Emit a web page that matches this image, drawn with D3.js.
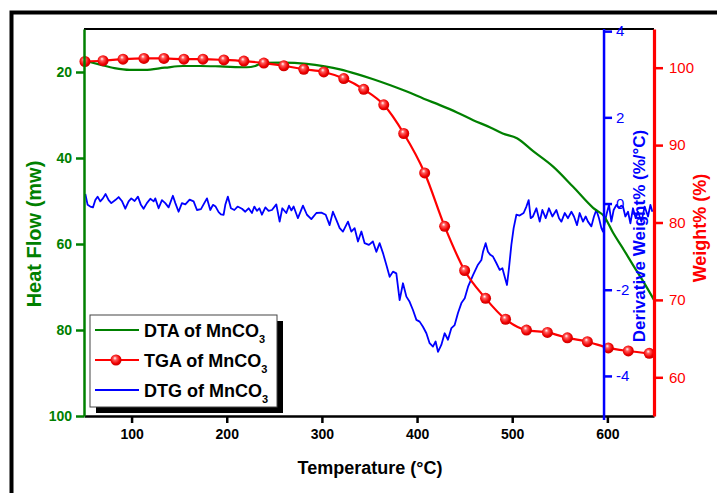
<!DOCTYPE html>
<html>
<head>
<meta charset="utf-8">
<script src="https://cdn.jsdelivr.net/npm/d3@7"></script>
<style>
  html, body { margin: 0; padding: 0; background: #fff; }
  svg { display: block; font-family: Arial, "Liberation Sans", sans-serif; }
</style>
</head>
<body>
<svg id="chart" width="717" height="493"></svg>
<script>
// ---- DTA (heat flow, mW) ----
const dtaTemp = [51,58,67,82,98,114,135,154,172,193,221,230,238,259,284,303,319,337,354,372,390,407,424,442,459,477,490,505,522,543,564,585,597,606,616,627,638,649];
const dtaHeat = [17.4,17.8,18.3,19.1,19.5,19.5,19.0,18.6,18.6,18.7,18.9,18.6,17.9,17.8,18.1,18.7,19.4,20.5,21.7,23.1,24.6,26.2,27.7,29.4,31.2,32.9,34.3,35.4,38.4,42.0,46.7,51.6,53.7,57.4,60.9,64.9,68.8,73.0];

// ---- TGA (weight %) ----
const tgaTemp = [51,70,91,113,134,155,175,197,218,239,260,281,302,323,344,365,386,408,429,450,472,493,515,537,558,579,601,622,644];
const tgaWeight = [100.8,100.9,101.1,101.2,101.2,101.1,101.1,101.0,100.85,100.6,100.25,99.8,99.45,98.6,97.2,95.2,91.5,86.4,79.5,73.8,70.2,67.5,66.1,65.8,65.1,64.6,63.8,63.4,63.1];

// ---- DTG (derivative weight, %/°C) ----
const dtgTemp = [51.4,53.8,56.6,59.4,61.9,64.3,67.1,69.9,72.7,75.9,78.7,82.9,86.4,89.8,93.4,96.9,99.7,103.2,106.7,109.8,112.6,116.1,119.7,123.2,124.9,128.4,131.9,135.4,138.9,143.4,146.0,149.4,152.9,156.5,161.0,165.2,168.7,172.9,176.4,179.2,182.7,185.5,188.3,191.5,193.9,196.7,198.5,201.2,204.4,208.0,211.4,216.0,219.5,223.0,226.5,229.0,231.7,234.3,237.0,240.6,244.0,247.5,252.1,255.6,258.4,
  262.6,265.4,267.9,270.3,274.8,280.1,284.3,288.9,294.2,299.4,304.0,308.1,311.6,315.2,318.7,322.1,327.4,330.9,334.4,337.9,341.5,344.9,349.4,353.6,357.2,360.7,364.2,367.7,371.2,374.7,378.2,381.7,385.2,388.8,392.2,395.7,399.3,402.7,406.2,409.8,413.2,416.7,419.5,422.0,425.5,429.0,432.5,436.1,439.5,443.0,446.6,450.1,453.6,
  458.8,464.0,467.6,469.3,472.1,474.5,477.0,479.8,483.3,486.8,489.7,492.1,494.5,496.6,499.1,501.5,504.4,507.8,512.0,514.9,517.3,519.4,521.8,525.4,528.9,531.7,535.2,538.6,542.2,546.4,549.2,551.7,555.2,558.6,562.2,564.9,568.1,570.9,574.4,577.2,579.6,583.2,585.9,588.4,591.2,593.7,595.4,599.0,601.7,604.2,606.6,609.5,612.2,614.7,616.4,618.9,621.7,624.2,626.9,629.8,632.2,635.8,639.2,642.7,645.2,647.3];
const dtgValue = [0.22,-0.03,-0.07,-0.09,0.08,0.16,0.05,0.12,0.22,0.08,0.01,0.08,0.15,0.06,-0.12,0.05,0.12,0.06,0.16,-0.03,-0.12,0.01,0.11,0.05,0.12,-0.11,0.08,0.01,-0.09,0.18,0.01,-0.19,0.01,-0.02,0.09,0.05,-0.15,-0.13,0.01,0.12,-0.15,-0.03,-0.07,-0.20,-0.25,-0.26,-0.03,0.16,-0.11,-0.15,-0.07,-0.12,-0.19,-0.11,-0.22,-0.07,-0.17,-0.11,-0.26,-0.09,-0.17,-0.15,-0.02,-0.42,-0.11,
  -0.22,-0.05,-0.16,-0.07,-0.34,-0.05,-0.26,-0.36,-0.22,-0.21,-0.26,-0.50,-0.19,-0.38,-0.57,-0.65,-0.42,-0.65,-0.57,-0.88,-0.65,-0.92,-0.96,-0.88,-1.12,-0.92,-1.15,-1.42,-1.70,-1.58,-1.62,-2.24,-1.85,-2.16,-2.28,-2.47,-2.70,-2.74,-2.86,-3.01,-3.24,-3.32,-3.20,-3.44,-3.28,-3.01,-3.16,-2.89,-2.82,-2.54,-2.31,-2.20,-1.93,
  -1.66,-1.42,-1.31,-1.12,-0.92,-1.12,-1.19,-1.23,-1.38,-1.54,-1.50,-1.70,-1.89,-1.50,-0.96,-0.57,-0.26,-0.28,-0.22,-0.07,0.08,-0.34,-0.30,-0.11,-0.42,-0.15,-0.34,-0.11,-0.30,-0.15,-0.34,-0.42,-0.22,-0.34,-0.19,-0.30,-0.50,-0.22,-0.42,-0.30,-0.42,-0.53,-0.30,-0.15,-0.34,-0.57,-0.65,-0.26,-0.03,-0.42,-0.15,-0.03,-0.10,-0.05,-0.07,-0.30,-0.19,-0.46,-0.11,-0.34,-0.19,-0.42,-0.07,-0.30,-0.03,-0.19];

// ---- axes ----
const tempTicks = [100,200,300,400,500,600];
const heatTicks = [20,40,60,80,100];
const dtgTicks = [-4,-2,0,2,4];
const weightTicks = [60,70,80,90,100];
const dtgAxisAt = 596.5; // temperature where the DTG axis is offset

const legendItems = [
  { name: "DTA of MnCO", sub: "3", kind: "dta" },
  { name: "TGA of MnCO", sub: "3", kind: "tga" },
  { name: "DTG of MnCO", sub: "3", kind: "dtg" }
];

const GREEN = "#008000", RED = "#ff0000", BLUE = "#0000ff";
const plot = { left: 84, right: 654, top: 29, bottom: 416 };

const svg = d3.select("#chart");

const x = d3.scaleLinear().domain([50, 649]).range([plot.left, plot.right]);
const yHeat = d3.scaleLinear().domain([10, 100]).range([plot.top, plot.bottom]);
const yDtg = d3.scaleLinear().domain([4.05, -4.93]).range([plot.top, plot.bottom]);
const yWt = d3.scaleLinear().domain([105, 55]).range([plot.top, plot.bottom]);

// gradient for the sphere-like TGA markers
const defs = svg.append("defs");
const grad = defs.append("radialGradient").attr("id", "ball")
  .attr("cx", "45%").attr("cy", "45%").attr("r", "60%")
  .attr("fx", "40%").attr("fy", "32%");
grad.append("stop").attr("offset", "0%").attr("stop-color", "#ffffff");
grad.append("stop").attr("offset", "28%").attr("stop-color", "#ff5a5a");
grad.append("stop").attr("offset", "70%").attr("stop-color", "#ee0000");
grad.append("stop").attr("offset", "100%").attr("stop-color", "#c00000");

// outer frame (left and top edges)
svg.append("path")
  .attr("d", "M11.5,493 L11.5,12.5 L717,12.5")
  .attr("fill", "none").attr("stroke", "#000").attr("stroke-width", 4);

// top border of the plot
svg.append("line")
  .attr("x1", plot.left).attr("x2", plot.right)
  .attr("y1", plot.top).attr("y2", plot.top)
  .attr("stroke", "#000").attr("stroke-width", 2);

// ---- curves ----
const dtgData = dtgTemp.map((t, i) => [t, dtgValue[i]]);
const dtaData = dtaTemp.map((t, i) => [t, dtaHeat[i]]);
const tgaData = tgaTemp.map((t, i) => [t, tgaWeight[i]]);

svg.append("path").datum(dtgData)
  .attr("fill", "none").attr("stroke", BLUE).attr("stroke-width", 1.8)
  .attr("stroke-linejoin", "round")
  .attr("d", d3.line().x(d => x(d[0])).y(d => yDtg(d[1])));

svg.append("path").datum(dtaData)
  .attr("fill", "none").attr("stroke", GREEN).attr("stroke-width", 2.2)
  .attr("d", d3.line().curve(d3.curveMonotoneX).x(d => x(d[0])).y(d => yHeat(d[1])));

svg.append("path").datum(tgaData)
  .attr("fill", "none").attr("stroke", RED).attr("stroke-width", 2.2)
  .attr("d", d3.line().curve(d3.curveMonotoneX).x(d => x(d[0])).y(d => yWt(d[1])));

svg.append("g").selectAll("circle").data(tgaData).join("circle")
  .attr("cx", d => x(d[0])).attr("cy", d => yWt(d[1])).attr("r", 5.5)
  .attr("fill", "url(#ball)");

// ---- axes ----
function styleAxis(g, color, width, labelColor, size, weight) {
  g.select(".domain").attr("stroke", color).attr("stroke-width", width);
  g.selectAll(".tick line").attr("stroke", color).attr("stroke-width", 2.5);
  g.selectAll(".tick text").attr("fill", labelColor).attr("font-size", size)
    .attr("font-weight", weight).attr("font-family", "Arial, 'Liberation Sans', sans-serif");
}

// bottom temperature axis
const gx = svg.append("g").attr("transform", `translate(0,${plot.bottom})`)
  .call(d3.axisBottom(x).tickValues(tempTicks).tickSize(7).tickSizeOuter(0).tickPadding(6));
styleAxis(gx, "#000", 2.5, "#000", 14, "bold");

// left heat-flow axis
const gl = svg.append("g").attr("transform", `translate(${plot.left},0)`)
  .call(d3.axisLeft(yHeat).tickValues(heatTicks).tickSize(8).tickSizeOuter(0).tickPadding(4));
styleAxis(gl, GREEN, 2.5, GREEN, 14, "bold");

// offset DTG axis
const fmtDash = d => (d < 0 ? "-" : "") + Math.abs(d);
const gb = svg.append("g").attr("transform", `translate(${x(dtgAxisAt)},0)`)
  .call(d3.axisRight(yDtg).tickValues(dtgTicks).tickFormat(fmtDash).tickSize(8).tickSizeOuter(0).tickPadding(4));
styleAxis(gb, BLUE, 2.5, BLUE, 15, "normal");
gb.select(".domain").attr("d", `M0,${plot.top}V${plot.bottom + 4}`);

// right weight axis
const gr = svg.append("g").attr("transform", `translate(${plot.right},0)`)
  .call(d3.axisRight(yWt).tickValues(weightTicks).tickSize(9).tickSizeOuter(0).tickPadding(6));
styleAxis(gr, RED, 3.2, RED, 15, "normal");

// ---- axis titles ----
svg.append("text")
  .attr("transform", "translate(34,234) rotate(-90)")
  .attr("text-anchor", "middle").attr("dominant-baseline", "central")
  .attr("fill", GREEN).attr("font-weight", "bold").attr("font-size", 20)
  .text("Heat Flow (mw)");

svg.append("text")
  .attr("transform", "translate(639,236) rotate(-90)")
  .attr("text-anchor", "middle").attr("dominant-baseline", "central")
  .attr("fill", BLUE).attr("font-weight", "bold").attr("font-size", 17)
  .text("Derivative Weight% (%/°C)");

svg.append("text")
  .attr("transform", "translate(700,228) rotate(-90)")
  .attr("text-anchor", "middle").attr("dominant-baseline", "central")
  .attr("fill", RED).attr("font-weight", "bold").attr("font-size", 18)
  .text("Weight% (%)");

svg.append("text")
  .attr("x", 370).attr("y", 468)
  .attr("text-anchor", "middle").attr("dominant-baseline", "central")
  .attr("fill", "#000").attr("font-weight", "bold").attr("font-size", 18)
  .text("Temperature (°C)");

// ---- legend ----
const lg = svg.append("g").attr("transform", "translate(90,315)");
lg.append("rect").attr("x", 6).attr("y", 6).attr("width", 187).attr("height", 92).attr("fill", "#000");
lg.append("rect").attr("x", 0).attr("y", 0).attr("width", 187).attr("height", 92)
  .attr("fill", "#fff").attr("stroke", "#444").attr("stroke-width", 1);

const rows = lg.selectAll("g.row").data(legendItems).join("g")
  .attr("class", "row")
  .attr("transform", (d, i) => `translate(0,${15 + i * 30})`);

rows.append("line").attr("x1", 5).attr("x2", 49).attr("y1", 0).attr("y2", 0)
  .attr("stroke-width", 2)
  .attr("stroke", d => d.kind === "dta" ? GREEN : d.kind === "tga" ? RED : BLUE);
rows.filter(d => d.kind === "tga").append("circle")
  .attr("cx", 26).attr("cy", 0).attr("r", 5.5).attr("fill", "url(#ball)");

const txt = rows.append("text").attr("x", 54).attr("y", 6.5)
  .attr("font-size", 18).attr("font-weight", "bold").attr("fill", "#000");
txt.append("tspan").text(d => d.name);
txt.append("tspan").attr("font-size", 11).attr("dy", 6).text(d => d.sub);
</script>
</body>
</html>
